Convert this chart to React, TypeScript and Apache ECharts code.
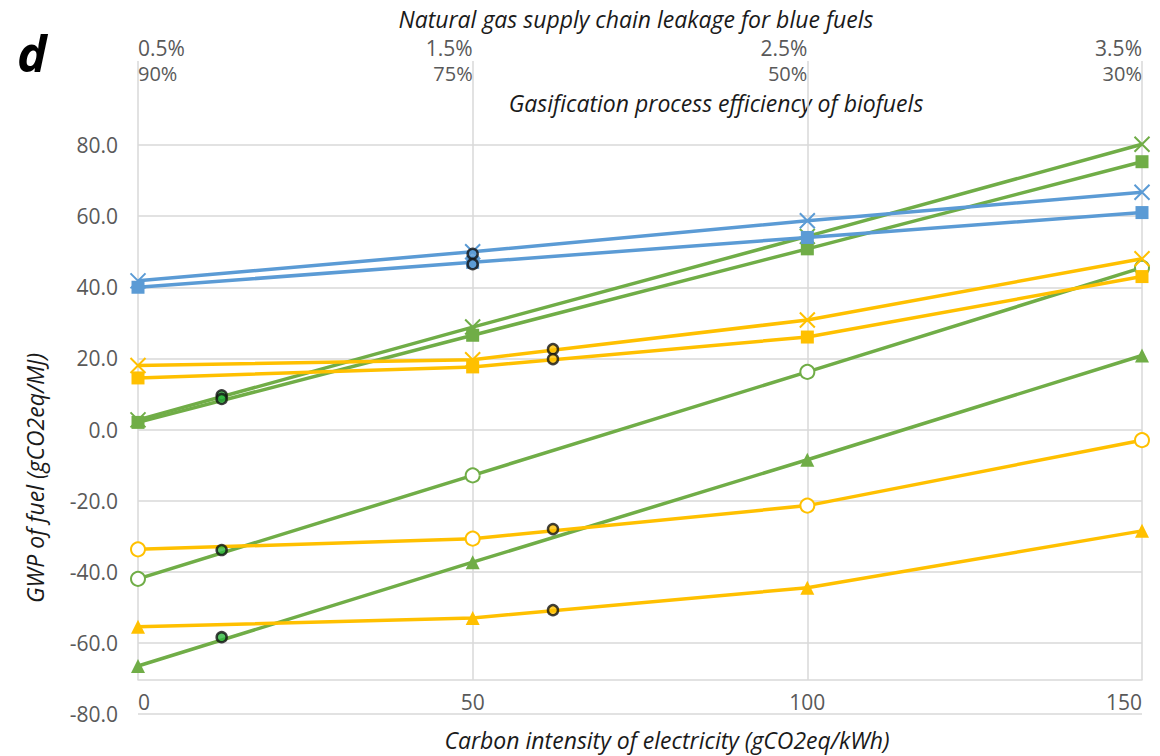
import React, { useEffect, useRef } from 'react';
import * as echarts from 'echarts';

// ---- data ----
const xValues = [0, 50, 100, 150];
const leakageLabels = ['0.5%', '1.5%', '2.5%', '3.5%'];
const efficiencyLabels = ['90%', '75%', '50%', '30%'];

const blueCross = [41.8, 50.0, 58.7, 66.7];
const blueSquare = [40.0, 47.0, 54.0, 61.0];
const greenCross = [2.7, 28.8, 54.3, 80.2];
const greenSquare = [2.0, 26.5, 50.8, 75.3];
const yellowCross = [18.0, 19.6, 30.8, 48.0];
const yellowSquare = [14.5, 17.6, 26.0, 43.0];
const greenCircle = [-42.0, -12.9, 16.2, 45.5];
const greenTriangle = [-66.5, -37.3, -8.5, 20.8];
const yellowCircle = [-33.7, -30.7, -21.4, -3.0];
const yellowTriangle = [-55.5, -53.0, -44.5, -28.5];

const greenDotX = 12.5;
const greenDots = [9.6, 8.6, -33.9, -58.4];
const blueDotX = 50;
const blueDots = [49.4, 46.5];
const yellowDotX = 62;
const yellowDots = [22.6, 19.8, -28.0, -50.8];

const yTicks = { min: -80, max: 80, step: 20 };

// ---- styles ----
const BLUE = '#5B9BD5';
const GREEN = '#70AD47';
const YELLOW = '#FFC000';
const GRID_COLOR = '#D9D9D9';
const LABEL_COLOR = '#595959';
const FONT = 'Open Sans';
const CROSS = 'path://M0,0L10,10M10,0L0,10';

function lineSeries(name: string, values: number[], color: string, symbol: string, size: number) {
  let itemStyle: any;
  if (symbol === CROSS) itemStyle = { color: 'rgba(0,0,0,0)', borderColor: color, borderWidth: 2 };
  else if (symbol === 'emptyCircle') itemStyle = { color, borderColor: color, borderWidth: 1.5 };
  else itemStyle = { color, borderWidth: 0 };
  return {
    type: 'line',
    name,
    xAxisIndex: 0,
    yAxisIndex: 0,
    data: xValues.map((x, i) => [x, values[i]]),
    symbol,
    symbolSize: size,
    showSymbol: true,
    clip: false,
    lineStyle: { color, width: 3.5 },
    itemStyle,
    emphasis: { disabled: true },
    z: 2,
  };
}

function dotSeries(name: string, x: number, values: number[], fill: string) {
  return {
    type: 'scatter',
    name,
    xAxisIndex: 0,
    yAxisIndex: 0,
    data: values.map((v) => [x, v]),
    symbol: 'circle',
    symbolSize: 10,
    clip: false,
    itemStyle: { color: fill, borderColor: '#111', borderWidth: 2.5 },
    emphasis: { disabled: true },
    z: 5,
  };
}

function labelFor(list: string[]) {
  return (v: number) => {
    const i = xValues.indexOf(v);
    return i >= 0 ? list[i] : '';
  };
}

export default function App() {
  const ref = useRef<HTMLDivElement>(null);
  useEffect(() => {
    if (!ref.current) return;
    const chart = echarts.init(ref.current, undefined, { renderer: 'svg' });
    const tickLabel = { color: LABEL_COLOR, fontSize: 21, fontFamily: FONT };
    const titleStyle = { fill: '#1a1a1a', fontSize: 23, fontFamily: FONT, fontStyle: 'italic', align: 'center', verticalAlign: 'middle' };
    chart.setOption({
      animation: false,
      backgroundColor: '#fff',
      textStyle: { fontFamily: FONT },
      grid: [
        { left: 138, right: 18, top: 145, bottom: 42 },
        { left: 138, right: 18, top: 61, bottom: 76 },
      ],
      xAxis: [
        {
          type: 'value', gridIndex: 0, position: 'bottom',
          min: xValues[0], max: xValues[xValues.length - 1], interval: 50,
          axisLine: { show: false }, axisTick: { show: false }, splitLine: { show: false },
          axisLabel: { ...tickLabel, inside: true, margin: 2, alignMinLabel: 'left', alignMaxLabel: 'right' },
        },
        {
          type: 'value', gridIndex: 1, position: 'top',
          min: xValues[0], max: xValues[xValues.length - 1], interval: 50,
          axisLine: { show: true, lineStyle: { color: GRID_COLOR, width: 1.5 } },
          axisTick: { show: false },
          splitLine: { show: true, lineStyle: { color: GRID_COLOR, width: 1.5 } },
          axisLabel: { ...tickLabel, margin: 3, formatter: labelFor(leakageLabels), align: 'right', alignMinLabel: 'left', alignMaxLabel: 'right' },
        },
        {
          type: 'value', gridIndex: 1, position: 'top',
          min: xValues[0], max: xValues[xValues.length - 1], interval: 50,
          axisLine: { show: false }, axisTick: { show: false }, splitLine: { show: false },
          axisLabel: { ...tickLabel, fontSize: 20, inside: true, margin: 2, formatter: labelFor(efficiencyLabels), align: 'right', alignMinLabel: 'left', alignMaxLabel: 'right' },
        },
      ],
      yAxis: [
        {
          type: 'value', gridIndex: 0, min: yTicks.min, max: yTicks.max, interval: yTicks.step,
          axisLine: { show: false }, axisTick: { show: false },
          splitLine: { show: true, lineStyle: { color: GRID_COLOR, width: 1.5 } },
          axisLabel: { ...tickLabel, margin: 20, formatter: (v: number) => v.toFixed(1) },
        },
        { type: 'value', gridIndex: 1, min: 0, max: 1, show: false },
      ],
      graphic: [
        { type: 'text', x: 17, y: 53, style: { text: 'd', fill: '#000', fontSize: 50, fontWeight: 'bold', fontStyle: 'italic', fontFamily: FONT, verticalAlign: 'middle' } },
        { type: 'text', x: 636, y: 19, style: { ...titleStyle, text: 'Natural gas supply chain leakage for blue fuels' } },
        { type: 'text', x: 716, y: 103, style: { ...titleStyle, text: 'Gasification process efficiency of biofuels' } },
        { type: 'text', x: 667, y: 740, style: { ...titleStyle, text: 'Carbon intensity of electricity (gCO2eq/kWh)' } },
        { type: 'text', x: 35, y: 478, rotation: Math.PI / 2, style: { ...titleStyle, text: 'GWP of fuel (gCO2eq/MJ)' } },
      ],
      series: [
        lineSeries('Green circle', greenCircle, GREEN, 'emptyCircle', 14),
        lineSeries('Green triangle', greenTriangle, GREEN, 'triangle', 14),
        lineSeries('Green cross', greenCross, GREEN, CROSS, 15),
        lineSeries('Green square', greenSquare, GREEN, 'rect', 13),
        lineSeries('Yellow circle', yellowCircle, YELLOW, 'emptyCircle', 14),
        lineSeries('Yellow triangle', yellowTriangle, YELLOW, 'triangle', 14),
        lineSeries('Yellow cross', yellowCross, YELLOW, CROSS, 15),
        lineSeries('Yellow square', yellowSquare, YELLOW, 'rect', 13),
        lineSeries('Blue cross', blueCross, BLUE, CROSS, 15),
        lineSeries('Blue square', blueSquare, BLUE, 'rect', 13),
        dotSeries('Green markers', greenDotX, greenDots, '#2EB83E'),
        dotSeries('Blue markers', blueDotX, blueDots, BLUE),
        dotSeries('Yellow markers', yellowDotX, yellowDots, YELLOW),
      ],
    });
    return () => chart.dispose();
  }, []);
  return <div ref={ref} style={{ position: 'fixed', left: 0, top: 0, width: 1160, height: 756 }} />;
}
